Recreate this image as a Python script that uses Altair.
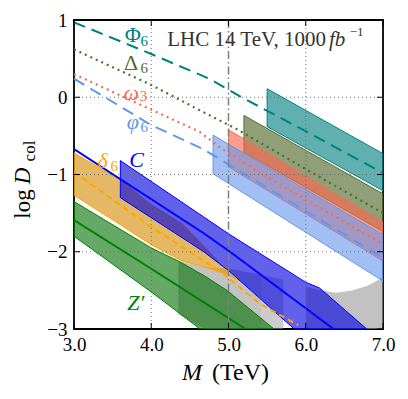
import altair as alt
import pandas as pd

FONT = "Liberation Serif"

X_TICKS = [3, 4, 5, 6, 7]
Y_TICKS = [1, 0, -1, -2, -3]
X_GRID = [4, 6]
Y_GRID = [0, -1, -2]
X_SPECIAL = [5]

# ---- reference lines (dashed / dotted) ----
PHI6C_X = [3.0, 4.0, 4.75, 5.17, 6.0, 7.0]
PHI6C_Y = [0.97, 0.56, 0.24, 0.0, -0.44, -0.98]
DELTA6C_X = [3.0, 4.0, 4.63, 5.12, 6.0, 7.0]
DELTA6C_Y = [0.62, 0.16, -0.17, -0.42, -0.93, -1.5]
OMEGA3_X = [3.0, 4.0, 4.63, 4.89, 5.49, 7.0]
OMEGA3_Y = [0.30, -0.16, -0.45, -0.65, -1.03, -1.9]
PHI6_X = [3.0, 4.0, 4.67, 5.4, 7.0]
PHI6_Y = [0.24, -0.36, -0.67, -1.11, -2.08]
DELTA6_X = [3.0, 4.0, 4.9, 5.4, 5.9]
DELTA6_Y = [-0.97, -1.68, -2.26, -2.67, -2.95]
C_X = [3.0, 4.68, 5.02, 6.36]
C_Y = [-0.67, -1.76, -2.0, -3.0]
ZP_X = [3.0, 4.0, 5.0, 5.22]
ZP_Y = [-1.59, -2.22, -2.86, -3.0]

# ---- bands: x, upper edge, lower edge ----
PHI6C_BX = [5.5, 7.0]
PHI6C_BT = [0.11, -0.73]
PHI6C_BB = [-0.38, -1.21]
DELTA6C_BX = [5.2, 7.0]
DELTA6C_BT = [-0.235, -1.25]
DELTA6C_BB = [-0.71, -1.74]
OMEGA3_BX = [5.0, 7.0]
OMEGA3_BT = [-0.42, -1.62]
OMEGA3_BB = [-0.9, -2.12]
PHI6_BX = [4.8, 7.0]
PHI6_BT = [-0.49, -1.78]
PHI6_BB = [-0.99, -2.38]
DELTA6_BX = [3.0, 3.6, 4.0, 4.4, 4.7, 5.0, 5.15]
DELTA6_BT = [-0.72, -1.07, -1.39, -1.64, -1.95, -2.27, -2.38]
DELTA6_BB = [-1.27, -1.65, -1.91, -2.12, -2.2, -2.3, -2.38]
C_BX = [3.6, 4.68, 5.02, 5.85, 5.99, 6.18, 6.79]
C_BT = [-0.82, -1.55, -1.78, -2.3, -2.39, -2.47, -3.0]
C_BB = [-1.30, -2.0, -2.26, -3.0, -3.0, -3.0, -3.0]
ZP_BX = [3.0, 4.0, 4.37, 4.63, 4.67, 4.98, 5.59]
ZP_BT = [-1.35, -1.95, -2.13, -2.28, -2.3, -2.5, -3.0]
ZP_BB = [-1.80, -2.52, -2.8, -3.0, -3.0, -3.0, -3.0]

# ---- grey regions ----
G1_X = [4.35, 4.7, 5.02, 5.43]
G1_T = [-2.12, -2.2, -2.22, -2.3]
G1_B = [-2.81, -3.0, -3.0, -3.0]
G2_X = [5.43, 5.71]
G2_T = [-2.3, -2.36]
G2_B = [-3.0, -3.0]
G3_X = [6.0, 6.2, 6.4, 6.6, 6.8, 6.95, 7.0]
G3_T = [-2.45, -2.5, -2.53, -2.5, -2.44, -2.36, -2.3]
G3_B = [-3.0, -3.0, -3.0, -3.0, -3.0, -3.0, -3.0]

xs = alt.Scale(domain=[3, 7], nice=False, zero=False)
ys = alt.Scale(domain=[-3, 1], nice=False, zero=False)
XAX = alt.Axis(values=X_TICKS, format=".1f", title=None, labelPadding=6,
               labelFlush=False, labelOverlap=False)
YAX = alt.Axis(values=Y_TICKS, format="d", title=None, labelPadding=7,
               labelFlush=False, labelOverlap=False,
               labelExpr="replace(datum.label, '-', '\u2212')")


def X(f):
    return alt.X(f, scale=xs, axis=XAX)


def Y(f):
    return alt.Y(f, scale=ys, axis=YAX)


def band(x, top, bot, fill, fo, stroke=None, sw=1.0):
    df = pd.DataFrame({"x": x, "top": top, "bot": bot})
    kw = dict(fill=fill, fillOpacity=fo, clip=True)
    if stroke:
        kw.update(stroke=stroke, strokeWidth=sw, strokeOpacity=1)
    else:
        kw.update(strokeWidth=0)
    return alt.Chart(df).mark_area(**kw).encode(x=X("x:Q"), y=Y("top:Q"), y2="bot:Q")


def line(x, y, color, dash=None, sw=2.0):
    df = pd.DataFrame({"x": x, "y": y})
    kw = dict(color=color, strokeWidth=sw, clip=True)
    if dash:
        kw["strokeDash"] = dash
    return alt.Chart(df).mark_line(**kw).encode(x=X("x:Q"), y=Y("y:Q"))


TEAL = "#008080"
OLIVE = "#556b2f"
TOMATO = "#fa6a50"
CORN = "#6495ed"
ORANGE = "#ffa500"
BLUE = "#0000ff"
GREEN = "#008000"

layers = []
# grey
layers.append(band(G1_X, G1_T, G1_B, "#9a9a9a", 0.6))
layers.append(band(G2_X, G2_T, G2_B, "#9a9a9a", 0.5))
layers.append(band(G3_X, G3_T, G3_B, "#9a9a9a", 0.6))
# lower bands
layers.append(band(ZP_BX, ZP_BT, ZP_BB, "#007000", 0.6, GREEN))
layers.append(band(DELTA6_BX, DELTA6_BT, DELTA6_BB, "#d9961e", 0.68, ORANGE))
layers.append(band(C_BX, C_BT, C_BB, "#0000e0", 0.62, BLUE))
# upper bands
layers.append(band(PHI6C_BX, PHI6C_BT, PHI6C_BB, TEAL, 0.62, TEAL))
layers.append(band(DELTA6C_BX, DELTA6C_BT, DELTA6C_BB, OLIVE, 0.65, OLIVE))
layers.append(band(OMEGA3_BX, OMEGA3_BT, OMEGA3_BB, TOMATO, 0.65, TOMATO))
layers.append(band(PHI6_BX, PHI6_BT, PHI6_BB, CORN, 0.6, CORN))

# lines
layers.append(line(PHI6C_X, PHI6C_Y, TEAL, [12, 7]))
layers.append(line(DELTA6C_X, DELTA6C_Y, OLIVE, [2, 4], 2.2))
layers.append(line(OMEGA3_X, OMEGA3_Y, TOMATO, [2, 4], 2.2))
layers.append(line(PHI6_X, PHI6_Y, CORN, [12, 7]))
layers.append(line(DELTA6_X, DELTA6_Y, ORANGE, [6, 4]))
layers.append(line(C_X, C_Y, BLUE, None, 2))
layers.append(line(ZP_X, ZP_Y, GREEN, None, 2))

# grid
gx = pd.DataFrame({"x": X_GRID})
gy = pd.DataFrame({"y": Y_GRID})
gs = pd.DataFrame({"x": X_SPECIAL})
layers.append(alt.Chart(gx).mark_rule(color="#666", strokeWidth=0.9, strokeDash=[1, 3]).encode(x=X("x:Q")))
layers.append(alt.Chart(gy).mark_rule(color="#666", strokeWidth=0.9, strokeDash=[1, 3]).encode(y=Y("y:Q")))
layers.append(alt.Chart(gs).mark_rule(color="#808080", strokeWidth=1.5, strokeDash=[8, 3, 1.5, 3]).encode(x=X("x:Q")))

# inward ticks
tx = pd.DataFrame({"x": X_TICKS})
ty = pd.DataFrame({"y": Y_TICKS})
layers.append(alt.Chart(tx).mark_rule(color="black", strokeWidth=1).encode(
    x=X("x:Q"), y=alt.value(309), y2=alt.value(303)))
layers.append(alt.Chart(tx).mark_rule(color="black", strokeWidth=1).encode(
    x=X("x:Q"), y=alt.value(0), y2=alt.value(6)))
layers.append(alt.Chart(ty).mark_rule(color="black", strokeWidth=1).encode(
    y=Y("y:Q"), x=alt.value(0), x2=alt.value(6)))
layers.append(alt.Chart(ty).mark_rule(color="black", strokeWidth=1).encode(
    y=Y("y:Q"), x=alt.value(309), x2=alt.value(303)))

# in-plot labels
LAB_TEXT = ["\u03a6", "\u0394", "\u03c9", "\u03c6", "\u03b4", "C", "Z\u2032"]
LAB_X = [3.76, 3.74, 3.74, 3.76, 3.37, 3.81, 3.80]
LAB_Y = [0.81, 0.44, 0.06, -0.32, -0.82, -0.81, -2.66]
LAB_COL = [TEAL, OLIVE, TOMATO, CORN, ORANGE, BLUE, GREEN]
LAB_STYLE = ["normal", "normal", "italic", "italic", "italic", "italic", "italic"]
SUB_TEXT = ["6", "6", "3", "6", "6"]
SUB_X = [3.91, 3.91, 3.90, 3.91, 3.52]
SUB_Y = [0.73, 0.38, 0.02, -0.38, -0.89]

for t, x, y, c, st in zip(LAB_TEXT, LAB_X, LAB_Y, LAB_COL, LAB_STYLE):
    layers.append(alt.Chart(pd.DataFrame({"x": [x], "y": [y], "t": [t]})).mark_text(
        font=FONT, fontSize=22, fontStyle=st, color=c, align="center", baseline="middle").encode(
        x=X("x:Q"), y=Y("y:Q"), text="t:N"))
for t, x, y, c in zip(SUB_TEXT, SUB_X, SUB_Y, LAB_COL):
    layers.append(alt.Chart(pd.DataFrame({"x": [x], "y": [y], "t": [t]})).mark_text(
        font=FONT, fontSize=15, color=c, align="center", baseline="middle").encode(
        x=X("x:Q"), y=Y("y:Q"), text="t:N"))

# LHC annotation
ANN = ["LHC  14 TeV,  1000", "fb", "\u22121"]
ANN_X = [6.262, 6.30, 6.57]
ANN_Y = [0.669, 0.669, 0.79]
ANN_ALIGN = ["right", "left", "left"]
ANN_STYLE = ["normal", "italic", "normal"]
ANN_SIZE = [21, 21, 13]
for t, x, y, al, st, sz in zip(ANN, ANN_X, ANN_Y, ANN_ALIGN, ANN_STYLE, ANN_SIZE):
    layers.append(alt.Chart(pd.DataFrame({"x": [x], "y": [y], "t": [t]})).mark_text(
        font=FONT, fontSize=sz, fontStyle=st, color="#333333", align=al, baseline="alphabetic").encode(
        x=X("x:Q"), y=Y("y:Q"), text="t:N"))


# axis titles (mixed styles)
def ptext(t, x, y, size=22, style="normal", angle=0, align="left", baseline="alphabetic"):
    kw = dict(font=FONT, fontSize=size, fontStyle=style, color="black", align=align, baseline=baseline)
    if angle:
        kw["angle"] = angle
    return alt.Chart(pd.DataFrame({"t": [t]})).mark_text(**kw).encode(
        text="t:N", x=alt.value(x), y=alt.value(y))


layers.append(ptext("M", 108, 360, size=24, style="italic"))
layers.append(ptext("(TeV)", 138, 360, size=24))
layers.append(ptext("log", -44, 184, size=23, angle=270, align="center"))
layers.append(ptext("D", -44, 156, size=23, style="italic", angle=270, align="center"))
layers.append(ptext("col", -39, 131, size=17, angle=270, align="center"))

chart = alt.layer(*layers).properties(
    width=309, height=309,
    padding={"left": 66, "top": 12, "right": 17, "bottom": 62},
    autosize=alt.AutoSizeParams(type="none"),
).configure_view(stroke="black", strokeWidth=1.8).configure_axis(
    grid=False, ticks=False, domain=False, labelFont=FONT, labelFontSize=19,
    labelColor="black",
)

chart.save("out.html", embed_options={"renderer": "svg", "actions": False})
